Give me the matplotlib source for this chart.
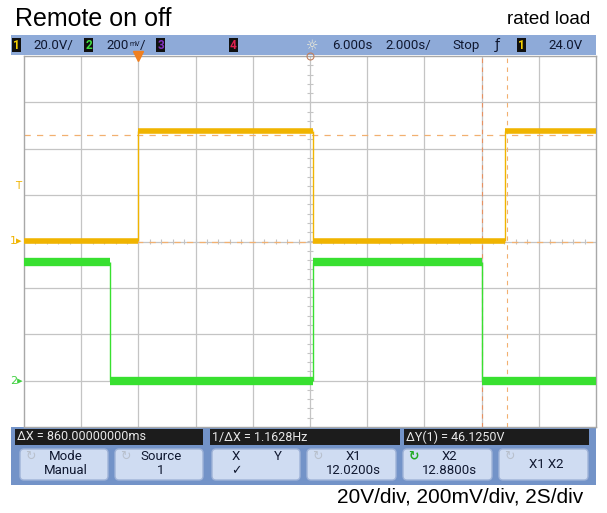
import numpy as np
import matplotlib
matplotlib.use("Agg")
import matplotlib.pyplot as plt
from matplotlib.patches import FancyBboxPatch, Rectangle
from matplotlib.transforms import blended_transform_factory

# ---------------- data ----------------
title_left = "Remote on off"
title_right = "rated load"
footer_text = "20V/div, 200mV/div, 2S/div"

time_per_div = 2.0      # s/div
delay_time = 6.0        # s (screen centre)
trigger_time = 0.0      # s
n_xdiv = 10
n_ydiv = 8

ch1_scale = 20.0        # V/div
ch1_offset_div = 0.0
ch1_edges = [0.0, 6.1, 12.82]          # s
ch1_levels = [0.3, 47.8, 0.3, 47.8]    # V

ch2_scale = 0.2         # V/div
ch2_offset_div = -3.0
ch2_edges = [-1.0, 6.1, 12.02]         # s
ch2_levels = [0.51, 0.0, 0.51, 0.0]    # V

trigger_level = 24.0    # V (ch1)
cursor_x = [12.02, 12.88]              # s
cursor_y = [46.0, -0.125]              # V (ch1)

measure_texts = ["\u0394X = 860.00000000ms", "1/\u0394X = 1.1628Hz", "\u0394Y(1) = 46.1250V"]
softkey_top = ["Mode", "Source", "X", "X1", "X2", "X1 X2"]
softkey_bottom = ["Manual", "1", "\u2713", "12.0200s", "12.8800s", ""]

# ---------------- figure ----------------
W, H = 607, 513
fig = plt.figure(figsize=(W / 100, H / 100), dpi=100)
fig.patch.set_facecolor("white")

ui = fig.add_axes([0, 0, 1, 1])
ui.set_xlim(0, W)
ui.set_ylim(H, 0)
ui.axis("off")

scope_font = ["Roboto", "DejaVu Sans"]
title_font = ["Liberation Sans", "DejaVu Sans"]
txt_c = "#101830"

# titles
ui.text(15, 19, title_left, fontsize=18, family=title_font, va="center", ha="left")
ui.text(590, 20, title_right, fontsize=13.5, family=title_font, va="center", ha="right")
ui.text(583, 497, footer_text, fontsize=15, family=title_font, va="center", ha="right")

# top status bar
ui.add_patch(Rectangle((11, 35), 585, 20, facecolor="#8eaad8", edgecolor="none"))


def chan_box(x, label, color):
    ui.add_patch(Rectangle((x, 38), 9, 14, facecolor="#101010", edgecolor="none"))
    ui.text(x + 4.5, 45.5, label, fontsize=8.5, family=scope_font, color=color,
            ha="center", va="center", fontweight="bold")


chan_box(12, "1", "#f5d000")
ui.text(33, 45.5, "20.0V/", fontsize=9.5, family=scope_font, color=txt_c, va="center")
chan_box(84, "2", "#40e040")
ui.text(106, 45.5, "200", fontsize=9.5, family=scope_font, color=txt_c, va="center")
ui.text(129, 44, "mV", fontsize=5, family=scope_font, color=txt_c, va="center")
ui.text(140, 45.5, "/", fontsize=9.5, family=scope_font, color=txt_c, va="center")
chan_box(156, "3", "#8030c0")
chan_box(229, "4", "#e02050")
ui.text(312, 45.5, "\u263C", fontsize=10, family=["DejaVu Sans"], color="#f4f0d8", ha="center", va="center")
ui.text(332, 45.5, "6.000s", fontsize=9.5, family=scope_font, color=txt_c, va="center")
ui.text(385, 45.5, "2.000s/", fontsize=9.5, family=scope_font, color=txt_c, va="center")
ui.text(452, 45.5, "Stop", fontsize=9.5, family=scope_font, color=txt_c, va="center")
ui.text(497, 45.5, "\u0192", fontsize=10, family=["DejaVu Sans"], color=txt_c, ha="center", va="center")
chan_box(517, "1", "#f5d000")
ui.text(548, 45.5, "24.0V", fontsize=9.5, family=scope_font, color=txt_c, va="center")

# bottom panel
ui.add_patch(Rectangle((11, 427), 585, 58, facecolor="#7393c8", edgecolor="none"))
seg = [(15, 203), (210, 400), (404, 589)]
for (x0, x1), txt in zip(seg, measure_texts):
    ui.add_patch(Rectangle((x0, 429), x1 - x0, 16, facecolor="#1c1c1c", edgecolor="none"))
    ui.text(x0 + 2, 437, txt, fontsize=9, family=scope_font, color="#e8e8e8", va="center", ha="left")

btn = [(20, 108), (115, 203), (212, 300), (307, 396), (403, 492), (499, 588)]
for i, ((x0, x1), top, bot) in enumerate(zip(btn, softkey_top, softkey_bottom)):
    ui.add_patch(FancyBboxPatch((x0, 449), x1 - x0, 31, boxstyle="round,pad=0,rounding_size=4",
                                facecolor="#cfdcf2", edgecolor="#9fb3d8", lw=1))
    cx = (x0 + x1) / 2
    if i != 2:
        ui.text(x0 + 10, 456, "\u21BB", fontsize=9, family=["DejaVu Sans"],
                color="#22aa22" if i == 4 else "#b8c0cc", ha="center", va="center",
                fontweight="bold" if i == 4 else "normal")
    if i == 2:
        ui.text(cx - 20, 457, "X", fontsize=9.5, family=scope_font, color=txt_c, ha="center", va="center")
        ui.text(cx + 22, 457, "Y", fontsize=9.5, family=scope_font, color=txt_c, ha="center", va="center")
        ui.text(cx - 20, 471, bot, fontsize=9, family=["DejaVu Sans"], color=txt_c, ha="center", va="center")
    elif bot == "":
        ui.text(cx + 3, 464, top, fontsize=9.5, family=scope_font, color=txt_c, ha="center", va="center")
    else:
        ui.text(cx + 2, 457, top, fontsize=9.5, family=scope_font, color=txt_c, ha="center", va="center")
        ui.text(cx + 2, 470.5, bot, fontsize=9.5, family=scope_font, color=txt_c, ha="center", va="center")

# ---------------- scope screen ----------------
ax = fig.add_axes([24 / W, (H - 427) / H, 572 / W, 371 / H])
t0 = delay_time - n_xdiv / 2 * time_per_div
t1 = delay_time + n_xdiv / 2 * time_per_div
ax.set_xlim(t0, t1)
ax.set_ylim(-n_ydiv / 2, n_ydiv / 2)
ax.set_facecolor("white")
ax.set_xticks([])
ax.set_yticks([])
for s in ax.spines.values():
    s.set_color("#a8a8a8")
    s.set_linewidth(1.0)

grid_c = "#c4c4c4"
for k in range(1, n_xdiv):
    ax.axvline(t0 + k * time_per_div, color=grid_c, lw=0.9, zorder=1)
for k in range(1, n_ydiv):
    ax.axhline(-n_ydiv / 2 + k, color=grid_c, lw=0.9, zorder=1)
# centre-line minor ticks
mx = np.arange(t0, t1 + 1e-9, time_per_div / 5)
ax.vlines(mx, -0.05, 0.05, color=grid_c, lw=0.8, zorder=1)
my = np.arange(-n_ydiv / 2, n_ydiv / 2 + 1e-9, 0.2)
ax.hlines(my, delay_time - 0.1, delay_time + 0.1, color=grid_c, lw=0.8, zorder=1)

# cursors
cur_c = "#f2b070"
for cy in cursor_y:
    ax.axhline(ch1_offset_div + cy / ch1_scale, color=cur_c, lw=0.9, ls=(0, (5, 5)), zorder=2)
ax.axvline(cursor_x[0], color="#e89060", lw=0.8, ls=(0, (4, 4)), zorder=2)
ax.axvline(cursor_x[1], color=cur_c, lw=0.8, ls=(0, (4, 4)), zorder=2)


def draw_trace(edges, levels, scale, offset, color, lw_h, lw_v):
    bounds = [t0] + list(edges) + [t1]
    ys = [offset + v / scale for v in levels]
    for i, y in enumerate(ys):
        ax.hlines(y, bounds[i], bounds[i + 1], color=color, lw=lw_h, zorder=4, capstyle="butt")
    for i, e in enumerate(edges):
        ax.vlines(e, ys[i], ys[i + 1], color=color, lw=lw_v, zorder=3)


draw_trace(ch2_edges, ch2_levels, ch2_scale, ch2_offset_div, "#38e030", 6.0, 1.0)
draw_trace(ch1_edges, ch1_levels, ch1_scale, ch1_offset_div, "#f0b400", 4.0, 1.0)

# markers on screen edge
tr = blended_transform_factory(ax.transAxes, ax.transData)
ax.text(-0.002, ch1_offset_div, "1\u25B8", transform=tr, fontsize=8, family=["DejaVu Sans"],
        color="#f0b400", ha="right", va="center", clip_on=False)
ax.text(-0.002, ch2_offset_div, "2\u25B8", transform=tr, fontsize=8, family=["DejaVu Sans"],
        color="#40d040", ha="right", va="center", clip_on=False)
ax.text(-0.004, ch1_offset_div + trigger_level / ch1_scale, "T", transform=tr, fontsize=7.5,
        family=["DejaVu Sans"], color="#f0b400", ha="right", va="center", clip_on=False)
ax.plot([trigger_time], [n_ydiv / 2], marker="v", ms=7, color="#f08020", clip_on=False, zorder=6)
ax.plot([delay_time], [n_ydiv / 2], marker="o", ms=5, mfc="none", mec="#c08060", mew=0.8,
        clip_on=False, zorder=6)

fig.savefig("out.png", dpi=100)
